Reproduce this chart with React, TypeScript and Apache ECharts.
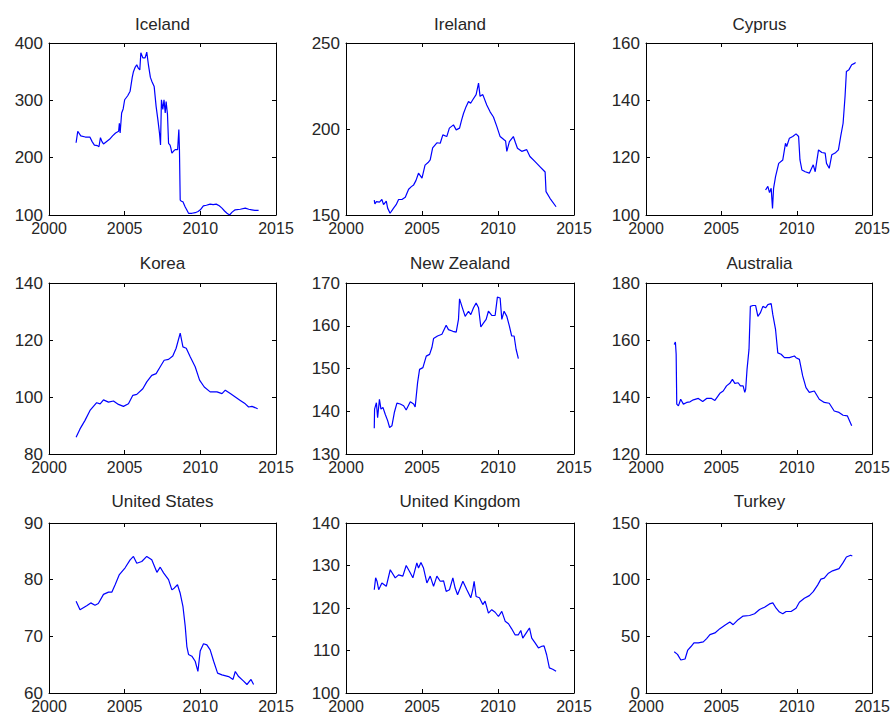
import React, { useEffect, useRef } from "react";
import * as echarts from "echarts";

// ---- Data ----
const countries = [
  "Iceland", "Ireland", "Cyprus",
  "Korea", "New Zealand", "Australia",
  "United States", "United Kingdom", "Turkey",
];

const xTicks = { min: 2000, max: 2015, interval: 5 };
const yMins = [100, 150, 100, 80, 130, 120, 60, 100, 0];
const yMaxs = [400, 250, 160, 140, 170, 180, 90, 140, 150];
const yIntervals = [100, 50, 20, 20, 10, 20, 10, 10, 50];

const iceland: [number, number][] = [
  [2001.79, 226], [2001.9, 246], [2002.1, 238], [2002.4, 236], [2002.7, 236], [2002.85, 228],
  [2003.0, 222], [2003.2, 221], [2003.3, 219], [2003.4, 235], [2003.5, 228], [2003.6, 224],
  [2004.0, 232], [2004.2, 238], [2004.4, 243], [2004.6, 246], [2004.65, 260], [2004.7, 243],
  [2004.8, 278], [2004.9, 285], [2005.0, 301], [2005.2, 308], [2005.36, 316], [2005.5, 340],
  [2005.58, 350], [2005.7, 358], [2005.8, 362], [2005.9, 356], [2006.0, 353], [2006.07, 383],
  [2006.2, 374], [2006.35, 374], [2006.46, 384], [2006.57, 362], [2006.7, 340], [2006.8, 333],
  [2006.95, 324], [2007.08, 289], [2007.2, 265], [2007.3, 243], [2007.37, 222], [2007.43, 301],
  [2007.52, 284], [2007.6, 301], [2007.68, 278], [2007.74, 298], [2007.83, 275], [2007.9, 225],
  [2008.0, 222], [2008.05, 217], [2008.12, 208], [2008.25, 212], [2008.34, 214], [2008.5, 214],
  [2008.58, 249], [2008.62, 214], [2008.67, 126], [2008.75, 124], [2008.85, 123], [2009.0, 114],
  [2009.1, 109], [2009.22, 103], [2009.45, 103], [2009.66, 104], [2009.85, 106], [2010.0, 109],
  [2010.2, 116], [2010.4, 117], [2010.65, 119], [2010.85, 118], [2011.05, 119], [2011.25, 116],
  [2011.43, 112], [2011.6, 107], [2011.76, 103], [2011.93, 100], [2012.1, 105], [2012.3, 109],
  [2012.64, 110], [2012.97, 112], [2013.2, 110], [2013.4, 109], [2013.6, 108], [2013.85, 108],
];

const ireland: [number, number][] = [
  [2001.86, 158.7], [2001.9, 156.4], [2002.0, 157.8], [2002.2, 157.5], [2002.36, 159], [2002.47, 156],
  [2002.65, 158], [2002.74, 154], [2002.9, 151], [2003.13, 154], [2003.3, 156], [2003.46, 159],
  [2003.68, 159], [2003.9, 160.3], [2004.12, 165], [2004.3, 166.5], [2004.45, 167.5], [2004.6, 170],
  [2004.77, 174.3], [2005.0, 171.4], [2005.2, 179], [2005.4, 180.5], [2005.54, 182], [2005.7, 189],
  [2005.98, 192], [2006.2, 191.7], [2006.37, 196.6], [2006.63, 195.6], [2006.8, 200.5], [2007.07, 202.4],
  [2007.25, 199.5], [2007.47, 200.5], [2007.6, 205], [2007.73, 209], [2007.9, 213], [2008.06, 216],
  [2008.2, 215], [2008.34, 217], [2008.56, 220], [2008.72, 226.7], [2008.82, 219], [2009.0, 220],
  [2009.26, 214], [2009.48, 210], [2009.7, 207], [2009.92, 201.5], [2010.14, 195.6], [2010.4, 193.7],
  [2010.5, 193], [2010.58, 187], [2010.75, 192.7], [2011.01, 195.6], [2011.15, 192], [2011.28, 188.8],
  [2011.56, 187], [2011.89, 188], [2012.1, 184], [2012.44, 181], [2012.77, 178], [2013.1, 175],
  [2013.16, 163.6], [2013.42, 159.7], [2013.82, 154.8],
];

const cyprus: [number, number][] = [
  [2007.93, 108.7], [2008.08, 110], [2008.19, 107.8], [2008.3, 109.3], [2008.39, 102.3], [2008.46, 109.3],
  [2008.59, 113.4], [2008.8, 118], [2009.07, 119.2], [2009.25, 125], [2009.33, 123.9], [2009.51, 126.8],
  [2009.73, 127.4], [2009.95, 128.3], [2010.12, 127.4], [2010.21, 119.2], [2010.34, 115.7], [2010.56, 115.1],
  [2010.83, 114.6], [2011.09, 117.5], [2011.22, 115.1], [2011.44, 122.7], [2011.66, 121.8], [2011.88, 121.6],
  [2011.97, 118], [2012.15, 116.3], [2012.32, 121], [2012.54, 121.6], [2012.76, 122.7], [2012.91, 127.4],
  [2013.07, 132], [2013.2, 141.4], [2013.29, 150.1], [2013.46, 150.7], [2013.64, 152.4], [2013.79, 152.8],
  [2013.9, 153.2],
];

const korea: [number, number][] = [
  [2001.79, 85.9], [2002.05, 88.8], [2002.38, 91.8], [2002.71, 95.3], [2003.15, 98], [2003.38, 97.6],
  [2003.6, 99], [2003.93, 98.2], [2004.26, 98.6], [2004.59, 97.4], [2004.92, 96.7], [2005.25, 97.6],
  [2005.54, 100.6], [2005.8, 100.9], [2006.2, 102.9], [2006.46, 105.3], [2006.79, 107.6], [2007.08, 108.2],
  [2007.35, 110.6], [2007.61, 112.9], [2007.9, 113.2], [2008.18, 114.4], [2008.4, 117.1], [2008.67, 122.4],
  [2008.85, 117.6], [2009.07, 117.1], [2009.33, 114.1], [2009.66, 110.6], [2009.95, 105.9], [2010.26, 103.5],
  [2010.65, 101.8], [2011.1, 101.8], [2011.43, 101.2], [2011.65, 102.4], [2011.98, 101.2], [2012.31, 100],
  [2012.64, 98.8], [2012.97, 97.6], [2013.19, 96.5], [2013.41, 96.7], [2013.79, 95.9],
];

const newZealand: [number, number][] = [
  [2001.86, 136], [2001.88, 140.5], [2002.0, 142], [2002.08, 138.5], [2002.2, 142.8], [2002.3, 140.5],
  [2002.43, 140.9], [2002.58, 139.3], [2002.74, 137.8], [2002.87, 136.2], [2003.02, 136.6], [2003.18, 139.7],
  [2003.35, 141.9], [2003.57, 141.7], [2003.79, 141.3], [2003.96, 140.3], [2004.23, 142.2], [2004.45, 141.7],
  [2004.55, 141], [2004.71, 146.7], [2004.84, 149.8], [2005.06, 150.2], [2005.28, 152.9], [2005.5, 153.3],
  [2005.65, 154.9], [2005.76, 157], [2006.02, 157.6], [2006.31, 158], [2006.59, 160.1], [2006.74, 159.1],
  [2007.03, 158.7], [2007.25, 158.5], [2007.4, 161.5], [2007.47, 166.3], [2007.62, 164.6], [2007.84, 162.2],
  [2008.06, 163.4], [2008.21, 162.6], [2008.39, 164.2], [2008.56, 165.3], [2008.72, 164.2], [2008.87, 159.7],
  [2009.04, 160.6], [2009.22, 161.5], [2009.37, 163.4], [2009.59, 162.4], [2009.81, 162.4], [2009.96, 166.7],
  [2010.14, 166.5], [2010.25, 161.5], [2010.4, 163.4], [2010.58, 162.2], [2010.75, 159.9], [2010.9, 157.6],
  [2011.06, 157.6], [2011.19, 154.5], [2011.34, 152.3],
];

const australia: [number, number][] = [
  [2001.87, 158.4], [2001.95, 159.3], [2002.0, 155], [2002.04, 137.5], [2002.15, 136.9], [2002.3, 139.2],
  [2002.48, 137.5], [2002.7, 138.1], [2002.92, 138.3], [2003.14, 139], [2003.47, 139.5], [2003.76, 138.4],
  [2004.02, 139.5], [2004.35, 139.5], [2004.57, 138.8], [2004.9, 141.3], [2005.12, 142.1], [2005.34, 143.9],
  [2005.56, 144.8], [2005.73, 146.2], [2005.89, 144.8], [2006.11, 145], [2006.26, 143.9], [2006.44, 143.9],
  [2006.55, 141.6], [2006.61, 142.7], [2006.7, 149.7], [2006.83, 156.7], [2006.92, 171.8], [2007.09, 172.1],
  [2007.27, 172.1], [2007.42, 168.3], [2007.58, 169.5], [2007.75, 171.8], [2007.93, 171.3], [2008.08, 172.4],
  [2008.3, 172.8], [2008.41, 168.9], [2008.59, 163.7], [2008.74, 155.5], [2008.96, 155], [2009.18, 153.8],
  [2009.51, 153.8], [2009.84, 154.4], [2009.95, 153.8], [2010.17, 153.2], [2010.39, 147.4], [2010.61, 143.3],
  [2010.83, 141.6], [2011.16, 142.1], [2011.49, 139.2], [2011.82, 138.1], [2012.15, 137.8], [2012.48, 135.1],
  [2012.8, 134.6], [2013.07, 133.6], [2013.35, 133.4], [2013.64, 129.9],
];

const unitedStates: [number, number][] = [
  [2001.79, 76.2], [2002.05, 74.7], [2002.49, 75.4], [2002.76, 75.9], [2003.04, 75.5], [2003.26, 75.8],
  [2003.6, 77.4], [2003.93, 77.8], [2004.15, 77.8], [2004.37, 79.1], [2004.65, 80.9], [2005.03, 82.1],
  [2005.36, 83.5], [2005.58, 84.1], [2005.8, 82.9], [2006.13, 83.2], [2006.46, 84.1], [2006.79, 83.5],
  [2007.13, 81.3], [2007.35, 82.2], [2007.57, 81.2], [2007.9, 80], [2008.12, 78.2], [2008.27, 78.5],
  [2008.49, 79.1], [2008.67, 77.6], [2008.85, 75.3], [2009.0, 71.8], [2009.11, 68.2], [2009.22, 66.8],
  [2009.44, 66.5], [2009.66, 65.6], [2009.84, 63.8], [2009.99, 67.4], [2010.21, 68.7], [2010.43, 68.5],
  [2010.65, 67.6], [2010.88, 65.6], [2011.14, 63.5], [2011.43, 63.2], [2011.87, 62.9], [2012.16, 62.4],
  [2012.31, 63.8], [2012.53, 62.9], [2012.86, 62.1], [2013.08, 61.5], [2013.35, 62.4], [2013.52, 61.5],
];

const unitedKingdom: [number, number][] = [
  [2001.86, 124.3], [2001.95, 127.1], [2002.04, 126.3], [2002.15, 124.3], [2002.26, 125.1], [2002.36, 125.9],
  [2002.65, 125.1], [2002.91, 129], [2003.24, 127.1], [2003.46, 127.8], [2003.74, 127.5], [2003.96, 130],
  [2004.18, 128.6], [2004.4, 127.1], [2004.66, 130.6], [2004.77, 129.4], [2004.93, 130.7], [2005.1, 129.4],
  [2005.32, 125.9], [2005.54, 127.5], [2005.76, 125.1], [2005.98, 127.5], [2006.2, 126.3], [2006.42, 126.4],
  [2006.59, 123.9], [2006.81, 124.3], [2007.03, 127.1], [2007.18, 124.7], [2007.34, 123.1], [2007.69, 126.3],
  [2007.95, 124.3], [2008.21, 122.4], [2008.34, 124.3], [2008.43, 126.3], [2008.56, 122.7], [2008.78, 122.4],
  [2009.0, 120.8], [2009.15, 121.6], [2009.37, 118.8], [2009.59, 119.6], [2009.81, 119], [2010.03, 118],
  [2010.25, 119.2], [2010.47, 116.9], [2010.69, 116.3], [2010.9, 115.1], [2011.12, 113.7], [2011.34, 113.7],
  [2011.5, 114.7], [2011.63, 112.9], [2011.85, 114.1], [2012.07, 115.3], [2012.22, 112.9], [2012.44, 111.8],
  [2012.66, 110.6], [2012.88, 111], [2013.03, 111.1], [2013.2, 109], [2013.38, 105.9], [2013.6, 105.6],
  [2013.82, 105.1],
];

const turkey: [number, number][] = [
  [2001.87, 36.4], [2002.09, 34.1], [2002.31, 29.1], [2002.59, 30], [2002.77, 37.9], [2002.97, 40.8],
  [2003.18, 44.3], [2003.47, 44.3], [2003.8, 45.1], [2004.02, 48], [2004.24, 51.5], [2004.57, 53],
  [2004.9, 56.8], [2005.23, 59.7], [2005.56, 62.6], [2005.78, 60.3], [2006.11, 64.7], [2006.44, 67.9],
  [2006.87, 68.4], [2007.2, 69.9], [2007.53, 73.7], [2007.86, 75.7], [2008.19, 78.6], [2008.41, 79.5],
  [2008.63, 74.8], [2008.85, 71.4], [2009.07, 69.9], [2009.29, 71.9], [2009.62, 71.9], [2009.95, 74.8],
  [2010.17, 80.1], [2010.5, 83.6], [2010.83, 85.9], [2011.09, 89.4], [2011.38, 95.2], [2011.6, 100.5],
  [2011.82, 101.4], [2012.1, 105.7], [2012.37, 107.8], [2012.8, 109.8], [2013.07, 115], [2013.29, 120],
  [2013.57, 121.5], [2013.68, 120.9],
];

const seriesData = [
  iceland, ireland, cyprus,
  korea, newZealand, australia,
  unitedStates, unitedKingdom, turkey,
];

// ---- Layout ----
const colLeft = [49, 346, 646];
const colWidth = [227, 228, 227];
const rowTop = [43, 283, 523];
const rowHeight = [172, 171, 170];
const titleCenterY = [25, 264, 502];

const FONT = "'Liberation Sans', Arial, Helvetica, sans-serif";
const TEXT = "#262626";

function buildOption() {
  const grid: any[] = [];
  const xAxis: any[] = [];
  const yAxis: any[] = [];
  const series: any[] = [];
  const title: any[] = [];

  countries.forEach((name, i) => {
    const r = Math.floor(i / 3);
    const c = i % 3;
    grid.push({
      left: colLeft[c],
      top: rowTop[r],
      width: colWidth[c],
      height: rowHeight[r],
      containLabel: false,
      show: false,
    });
    title.push({
      text: name,
      left: colLeft[c] + colWidth[c] / 2,
      top: titleCenterY[r] - 9,
      textAlign: "center",
      padding: 0,
      textStyle: { fontFamily: FONT, fontSize: 17, fontWeight: "normal", color: TEXT },
    });
    const axisCommon = {
      type: "value",
      gridIndex: i,
      axisLine: { show: true, onZero: false, lineStyle: { color: "#000", width: 1 } },
      axisTick: { show: true, inside: true, length: 4, lineStyle: { color: "#000", width: 1 } },
      splitLine: { show: false },
    };
    xAxis.push({
      ...axisCommon,
      position: "bottom",
      min: xTicks.min,
      max: xTicks.max,
      interval: xTicks.interval,
      axisLabel: {
        show: true, margin: 5, fontFamily: FONT, fontSize: 16, color: TEXT,
        showMinLabel: true, showMaxLabel: true,
        formatter: (v: number) => String(v),
      },
    });
    xAxis.push({
      ...axisCommon,
      position: "top",
      min: xTicks.min,
      max: xTicks.max,
      interval: xTicks.interval,
      axisLabel: { show: false },
    });
    yAxis.push({
      ...axisCommon,
      position: "left",
      min: yMins[i],
      max: yMaxs[i],
      interval: yIntervals[i],
      axisLabel: {
        show: true, margin: 6, fontFamily: FONT, fontSize: 17, color: TEXT,
        showMinLabel: true, showMaxLabel: true,
        formatter: (v: number) => String(v),
      },
    });
    yAxis.push({
      ...axisCommon,
      position: "right",
      min: yMins[i],
      max: yMaxs[i],
      interval: yIntervals[i],
      axisLabel: { show: false },
    });
    series.push({
      type: "line",
      name,
      xAxisIndex: 2 * i,
      yAxisIndex: 2 * i,
      data: seriesData[i],
      showSymbol: false,
      symbol: "none",
      smooth: false,
      lineStyle: { color: "#0000ff", width: 1.2 },
      emphasis: { disabled: true },
    });
  });

  return {
    animation: false,
    backgroundColor: "#ffffff",
    title,
    grid,
    xAxis,
    yAxis,
    series,
    tooltip: { show: false },
  };
}

export default function App() {
  const ref = useRef<HTMLDivElement>(null);
  useEffect(() => {
    if (!ref.current) return;
    const chart = echarts.init(ref.current, undefined, { renderer: "svg" });
    chart.setOption(buildOption() as any);
    return () => chart.dispose();
  }, []);
  return (
    <div
      ref={ref}
      style={{ position: "absolute", left: 0, top: 0, width: 893, height: 717, background: "#fff" }}
    />
  );
}
